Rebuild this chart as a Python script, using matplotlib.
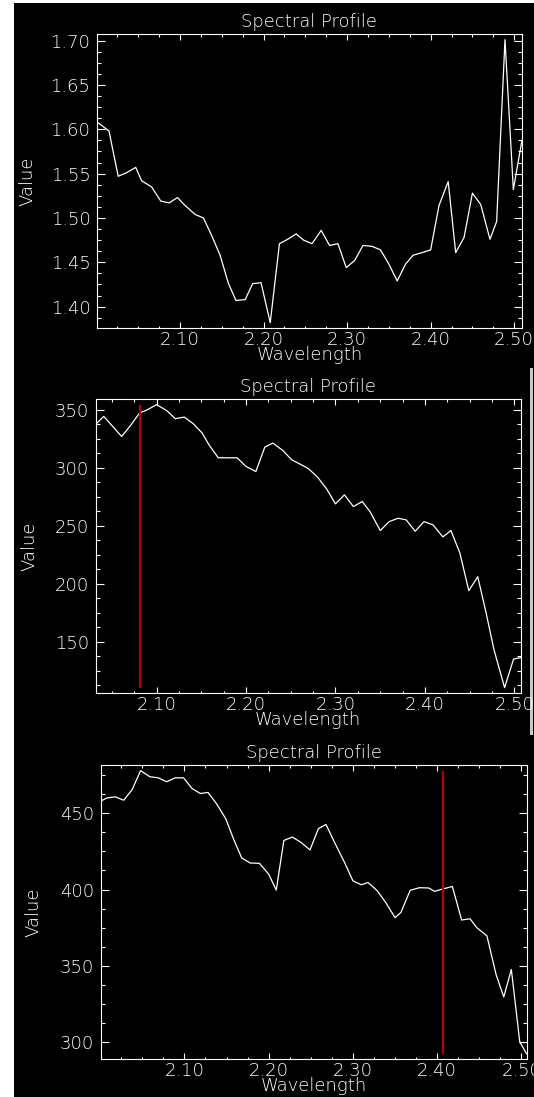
import matplotlib
matplotlib.use('Agg')
import matplotlib.pyplot as plt
from matplotlib.patches import Rectangle
from matplotlib.ticker import MultipleLocator, AutoMinorLocator, FormatStrFormatter

plt.rcParams['font.family'] = ['DejaVu Sans']
plt.rcParams['font.weight'] = 'light'
plt.rcParams['axes.titleweight'] = 'light'
plt.rcParams['axes.labelweight'] = 'light'

# spectrum 1: reflectance-like values, no band marker
wl_a = [2.001, 2.015, 2.026, 2.036, 2.047, 2.054, 2.066, 2.077, 2.087, 2.097,
        2.105, 2.118, 2.128, 2.138, 2.148, 2.158, 2.167, 2.178, 2.187, 2.197,
        2.208, 2.219, 2.229, 2.239, 2.248, 2.258, 2.269, 2.279, 2.289, 2.299,
        2.309, 2.319, 2.330, 2.340, 2.350, 2.360, 2.370, 2.379, 2.390, 2.400,
        2.410, 2.421, 2.430, 2.440, 2.450, 2.460, 2.471, 2.479, 2.489, 2.499,
        2.509]
val_a = [1.608, 1.598, 1.547, 1.551, 1.557, 1.542, 1.535, 1.519, 1.517, 1.523,
         1.515, 1.504, 1.500, 1.480, 1.458, 1.426, 1.407, 1.408, 1.426, 1.427,
         1.382, 1.471, 1.476, 1.482, 1.475, 1.471, 1.486, 1.469, 1.471, 1.444,
         1.452, 1.469, 1.468, 1.464, 1.448, 1.429, 1.448, 1.458, 1.461, 1.464,
         1.514, 1.541, 1.461, 1.478, 1.528, 1.515, 1.476, 1.496, 1.701, 1.532,
         1.586]

# spectrum 2
wl_b = [2.032, 2.041, 2.050, 2.061, 2.071, 2.081, 2.090, 2.100, 2.111, 2.121,
        2.131, 2.141, 2.151, 2.159, 2.169, 2.180, 2.190, 2.200, 2.211, 2.221,
        2.230, 2.241, 2.251, 2.261, 2.270, 2.280, 2.290, 2.300, 2.310, 2.320,
        2.330, 2.339, 2.350, 2.360, 2.370, 2.379, 2.389, 2.399, 2.409, 2.420,
        2.429, 2.439, 2.449, 2.459, 2.468, 2.477, 2.489, 2.499, 2.507]
val_b = [337.3, 344.2, 336.4, 326.9, 336.4, 347.1, 350.0, 354.3, 349.4, 342.2,
         343.6, 337.9, 329.8, 319.2, 308.5, 308.5, 308.5, 301.0, 296.7, 317.7,
         321.2, 314.9, 306.8, 302.8, 299.0, 291.8, 281.8, 268.8, 276.6, 266.5,
         270.8, 261.6, 245.8, 253.5, 256.4, 255.0, 245.2, 253.5, 250.7, 240.3,
         245.8, 226.5, 194.0, 206.0, 176.0, 143.5, 110.4, 135.0, 136.3]
mark_b = 2.081

# spectrum 3
wl_c = [2.001, 2.008, 2.018, 2.028, 2.038, 2.048, 2.059, 2.069, 2.079, 2.089,
        2.099, 2.109, 2.119, 2.128, 2.138, 2.149, 2.159, 2.168, 2.178, 2.189,
        2.200, 2.209, 2.218, 2.228, 2.238, 2.249, 2.259, 2.268, 2.279, 2.290,
        2.300, 2.310, 2.318, 2.329, 2.339, 2.350, 2.357, 2.368, 2.379, 2.390,
        2.397, 2.407, 2.418, 2.429, 2.439, 2.447, 2.459, 2.470, 2.479, 2.488,
        2.498, 2.506]
val_c = [458.1, 460.1, 460.8, 458.6, 465.6, 478.0, 474.0, 473.3, 470.7, 473.3,
         473.3, 466.3, 463.0, 463.7, 456.4, 446.5, 432.2, 420.7, 417.4, 417.2,
         410.1, 399.6, 432.2, 434.4, 431.1, 426.0, 439.9, 442.7, 430.0, 417.8,
         405.7, 403.1, 404.6, 399.1, 391.4, 381.5, 385.0, 399.5, 401.2, 401.0,
         398.8, 400.4, 402.0, 380.0, 380.8, 375.0, 369.6, 344.0, 329.5, 347.5,
         300.0, 292.3]
mark_c = 2.407

W, H = 534, 1097
FG = 'white'
FS = 13


def px_box(left, top, right, bottom):
    return [left / W, 1 - bottom / H, (right - left) / W, (bottom - top) / H]


def spectral_panel(fig, box, wl, vals, ystep, yfmt, mark=None, ylab_x=-0.16):
    ax = fig.add_axes(box)
    ax.set_facecolor('black')
    ax.plot(wl, vals, color=FG, lw=0.9)
    if mark is not None:
        ax.vlines(mark, min(vals), max(vals), color='#b40000', lw=1.6)
    ax.margins(x=0, y=0.02)
    ax.set_xlim(wl[0], wl[-1])

    ax.xaxis.set_major_locator(MultipleLocator(0.1))
    ax.xaxis.set_minor_locator(AutoMinorLocator(4))
    ax.xaxis.set_major_formatter(FormatStrFormatter('%.2f'))
    ax.yaxis.set_major_locator(MultipleLocator(ystep))
    ax.yaxis.set_minor_locator(AutoMinorLocator(4))
    ax.yaxis.set_major_formatter(FormatStrFormatter(yfmt))

    for s in ax.spines.values():
        s.set_color(FG)
        s.set_linewidth(0.8)
    ax.tick_params(which='both', direction='in', top=True, right=True,
                   colors=FG, width=0.8, labelsize=FS)
    ax.tick_params(axis='x', which='major', length=4.3, pad=2)
    ax.tick_params(axis='x', which='minor', length=1.8)
    ax.tick_params(axis='y', which='major', length=5.8, pad=5)
    ax.tick_params(axis='y', which='minor', length=2.9)

    ax.set_title('Spectral Profile', color=FG, fontsize=FS, pad=5)
    ax.set_xlabel('Wavelength', color=FG, fontsize=FS)
    ax.xaxis.set_label_coords(0.5, -0.09)
    ax.xaxis.label.set_va('center')
    ax.set_ylabel('Value', color=FG, fontsize=FS)
    ax.yaxis.set_label_coords(ylab_x, 0.5)
    ax.yaxis.label.set_va('center')
    return ax


fig = plt.figure(figsize=(W / 100, H / 100), dpi=100, facecolor='white')
fig.patches.append(Rectangle((14 / W, 0), 1 - 14 / W, 1 - 3 / H,
                             transform=fig.transFigure, facecolor='black',
                             edgecolor='none', zorder=-10))
fig.patches.append(Rectangle((530 / W, 1 - 735 / H), 3 / W, 367 / H,
                             transform=fig.transFigure, facecolor='#c8c8c8',
                             edgecolor='none', zorder=-5))

spectral_panel(fig, px_box(97.3, 34, 521.7, 328.3), wl_a, val_a, 0.05, '%.2f',
               ylab_x=-0.165)
spectral_panel(fig, px_box(95.7, 399, 520.7, 693.3), wl_b, val_b, 50, '%d',
               mark=mark_b, ylab_x=-0.157)
spectral_panel(fig, px_box(101, 765, 526.5, 1059.3), wl_c, val_c, 50, '%d',
               mark=mark_c, ylab_x=-0.158)

fig.savefig('out.png', dpi=100, facecolor=fig.get_facecolor())
